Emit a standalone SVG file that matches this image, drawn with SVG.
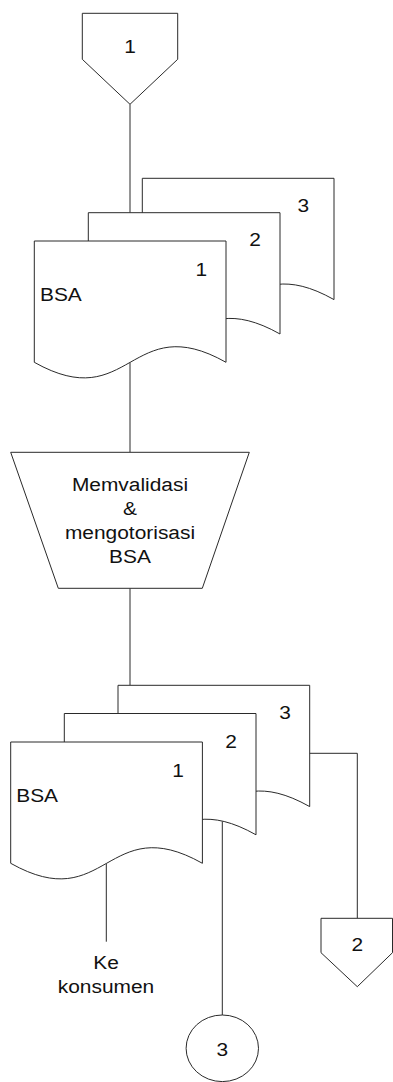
<svg xmlns="http://www.w3.org/2000/svg" width="393" height="1082" viewBox="0 0 393 1082">
<style>
.s{fill:#fff;stroke:#2a2a2a;stroke-width:1}
.c{fill:none;stroke:#2a2a2a;stroke-width:1}
.t{font-family:"Liberation Sans",Arial,sans-serif;font-size:19px;fill:#111}
.m{text-anchor:middle}
</style>
<rect width="393" height="1082" fill="#fff"/>
<g id="connectors">
<path class="c" d="M130,104.3 V212.7"/>
<path class="c" d="M130,362.3 V452.3"/>
<path class="c" d="M130,588.3 V685.3"/>
<path class="c" d="M309.3,753.3 H357.3 V918.3"/>
<path class="c" d="M222.3,821.3 V1015"/>
<path class="c" d="M106.3,863.3 V941.7"/>
</g>
<g id="offpage1">
<polygon class="s" points="82.3,13.3 177.7,13.3 177.7,59.3 130,104.3 82.3,59.3"/>
<text class="t m" transform="translate(130,53.3) scale(1.1,1)">1</text>
</g>
<g id="doc-top-3">
<path class="s" d="M142.3,299.6 V178.3 H334 V299.6 C238.2,245.6 238.2,353.6 142.3,299.6 Z"/>
<text class="t m" transform="translate(303.3,212.3) scale(1.1,1)">3</text>
</g>
<g id="doc-top-2">
<path class="s" d="M88.3,334 V212.7 H280 V334 C184.2,280 184.2,388 88.3,334 Z"/>
<text class="t m" transform="translate(255,246.3) scale(1.1,1)">2</text>
</g>
<g id="doc-top-1">
<path class="s" d="M34.3,362.3 V241 H226 V362.3 C130.2,308.3 130.2,416.3 34.3,362.3 Z"/>
<text class="t m" transform="translate(201.3,275.5) scale(1.1,1)">1</text>
<text class="t" transform="translate(40,300.7) scale(1.1,1)">BSA</text>
</g>
<g id="process">
<polygon class="s" points="10.7,452.3 249.3,452.3 202.3,588.3 58.3,588.3"/>
<text class="t m" transform="translate(130,490.5) scale(1.1,1)">Memvalidasi</text>
<text class="t m" transform="translate(130,514.7) scale(1.1,1)">&amp;</text>
<text class="t m" transform="translate(130,538.9) scale(1.1,1)">mengotorisasi</text>
<text class="t m" transform="translate(130,563.1) scale(1.1,1)">BSA</text>
</g>
<g id="doc-bot-3">
<path class="s" d="M118,806.6 V685.3 H309.7 V806.6 C213.9,752.6 213.9,860.6 118,806.6 Z"/>
<text class="t m" transform="translate(285,719.3) scale(1.1,1)">3</text>
</g>
<g id="doc-bot-2">
<path class="s" d="M64.3,834.8 V713.5 H256 V834.8 C160.2,780.8 160.2,888.8 64.3,834.8 Z"/>
<text class="t m" transform="translate(231,748.3) scale(1.1,1)">2</text>
</g>
<g id="doc-bot-1">
<path class="s" d="M10.7,863.3 V742 H202.4 V863.3 C106.6,809.3 106.6,917.3 10.7,863.3 Z"/>
<text class="t m" transform="translate(178,776.6) scale(1.1,1)">1</text>
<text class="t" transform="translate(16.2,801.7) scale(1.1,1)">BSA</text>
</g>
<g id="ke-konsumen">
<text class="t m" transform="translate(106,969.3) scale(1.1,1)">Ke</text>
<text class="t m" transform="translate(106,993.3) scale(1.1,1)">konsumen</text>
</g>
<g id="offpage2">
<polygon class="s" points="321,918.3 392.5,918.3 392.5,952.7 357.3,986.7 321,952.7"/>
<text class="t m" transform="translate(357.3,950.7) scale(1.1,1)">2</text>
</g>
<g id="connector3">
<ellipse class="s" cx="222.3" cy="1048.3" rx="36.2" ry="33.3"/>
<text class="t m" transform="translate(222.3,1055.7) scale(1.1,1)">3</text>
</g>
</svg>
